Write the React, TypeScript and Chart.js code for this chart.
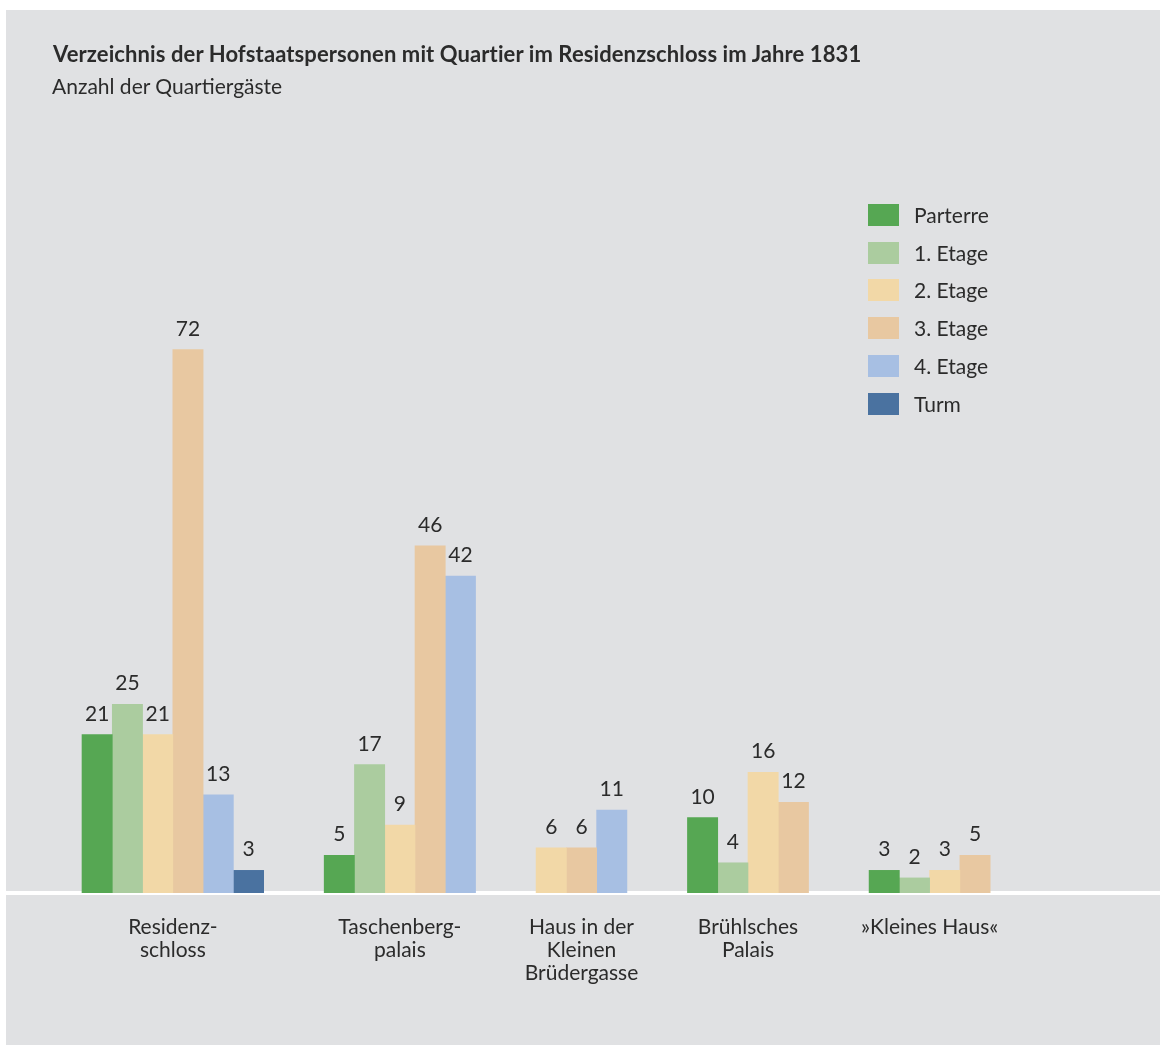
import React, { useEffect, useRef } from 'react';
import { Chart, registerables } from 'chart.js';

Chart.register(...registerables);

// ---- data ----
const LOCATIONS: string[][] = [
  ['Residenz-', 'schloss'],
  ['Taschenberg-', 'palais'],
  ['Haus in der', 'Kleinen', 'Brüdergasse'],
  ['Brühlsches', 'Palais'],
  ['»Kleines Haus«'],
];
const SERIES = ['Parterre', '1. Etage', '2. Etage', '3. Etage', '4. Etage', 'Turm'];
const COLORS = ['#56a753', '#abcc9f', '#f2d8a7', '#e8c8a1', '#a7bfe3', '#4a72a0'];
const PARTERRE = [21, 5, null, 10, 3];
const ETAGE1 = [25, 17, null, 4, 2];
const ETAGE2 = [21, 9, 6, 16, 3];
const ETAGE3 = [72, 46, 6, 12, 5];
const ETAGE4 = [13, 42, 11, null, null];
const TURM = [3, null, null, null, null];
const VALUES: (number | null)[][] = [PARTERRE, ETAGE1, ETAGE2, ETAGE3, ETAGE4, TURM];

const TITLE = 'Verzeichnis der Hofstaatspersonen mit Quartier im Residenzschloss im Jahre 1831';
const SUBTITLE = 'Anzahl der Quartiergäste';

const FONT = 'Lato, "Noto Sans", sans-serif';
const TEXT = '#2b2b2b';
const BG = '#e0e1e3';

// bars of each location are packed next to each other, groups separated by a gap
const GAP_SLOTS = 2;
const points: { x: number; y: number }[][] = SERIES.map(() => []);
const groupCenters: number[] = [];
{
  let slot = 0;
  LOCATIONS.forEach((_, li) => {
    const start = slot;
    VALUES.forEach((vals, si) => {
      const v = vals[li];
      if (v !== null && v !== undefined) {
        points[si].push({ x: slot, y: v });
        slot++;
      }
    });
    groupCenters.push((start + slot - 1) / 2);
    slot += GAP_SLOTS;
  });
}

const W = 1154;
const H = 1035;

const valueLabels = {
  id: 'valueLabels',
  afterDatasetsDraw(chart: any) {
    const ctx = chart.ctx;
    ctx.save();
    ctx.fillStyle = TEXT;
    ctx.font = `21px ${FONT}`;
    ctx.textAlign = 'center';
    ctx.textBaseline = 'alphabetic';
    chart.data.datasets.forEach((ds: any, di: number) => {
      const meta = chart.getDatasetMeta(di);
      meta.data.forEach((el: any, i: number) => {
        const v = ds.data[i].y;
        ctx.fillText(String(v), el.x, el.y - 14);
      });
    });
    ctx.restore();
  },
};

export default function App() {
  const ref = useRef<HTMLCanvasElement | null>(null);
  useEffect(() => {
    if (!ref.current) return;
    const chart = new Chart(ref.current, {
      type: 'bar',
      data: {
        datasets: SERIES.map((name, i) => ({
          label: name,
          data: points[i],
          backgroundColor: COLORS[i],
          borderWidth: 0,
          grouped: false,
          barPercentage: 1,
          categoryPercentage: 1,
        })),
      },
      options: {
        responsive: false,
        animation: false,
        layout: { padding: { left: 0, right: 0, top: 0, bottom: 32 } },
        plugins: {
          legend: { display: false },
          title: { display: false },
          tooltip: { enabled: false },
        },
        scales: {
          x: {
            type: 'linear',
            offset: false,
            min: -3.011,
            max: 35.11,
            grid: { display: false, drawTicks: false, offset: false },
            border: { display: true, color: '#ffffff', width: 4 },
            afterBuildTicks: (scale: any) => {
              scale.ticks = groupCenters.map((v) => ({ value: v }));
            },
            afterFit: (scale: any) => {
              scale.height = 120;
            },
            ticks: {
              autoSkip: false,
              maxRotation: 0,
              minRotation: 0,
              padding: 23,
              color: TEXT,
              font: { family: FONT, size: 21, lineHeight: '23px' },
              callback: (_v: any, i: number) => LOCATIONS[i],
            },
          },
          y: {
            display: false,
            min: 0,
            max: 117,
          },
        },
      },
      plugins: [valueLabels],
    } as any);
    return () => chart.destroy();
  }, []);

  return (
    <div style={{ position: 'absolute', left: 0, top: 0, width: 1160, height: 1045, overflow: 'hidden' }}>
      <div style={{ position: 'absolute', left: 6, top: 10, width: W, height: H, background: BG }}>
        <canvas ref={ref} width={W} height={H} style={{ width: W, height: H, display: 'block' }} />
      </div>
      <div
        style={{
          position: 'absolute', left: 53, top: 41, fontFamily: FONT, fontWeight: 700,
          fontSize: 22, lineHeight: '26px', color: TEXT, whiteSpace: 'nowrap', letterSpacing: '0.1px',
        }}
      >
        {TITLE}
      </div>
      <div
        style={{
          position: 'absolute', left: 52, top: 73, fontFamily: FONT, fontWeight: 400,
          fontSize: 21, lineHeight: '25px', color: TEXT, whiteSpace: 'nowrap',
        }}
      >
        {SUBTITLE}
      </div>
      {SERIES.map((name, i) => (
        <div key={name} style={{ position: 'absolute', left: 868, top: 204 + i * 37.7, height: 22, display: 'flex', alignItems: 'center' }}>
          <div style={{ width: 31, height: 22, background: COLORS[i] }} />
          <div style={{ marginLeft: 15, fontFamily: FONT, fontSize: 21, lineHeight: '22px', color: TEXT, whiteSpace: 'nowrap' }}>{name}</div>
        </div>
      ))}
    </div>
  );
}
